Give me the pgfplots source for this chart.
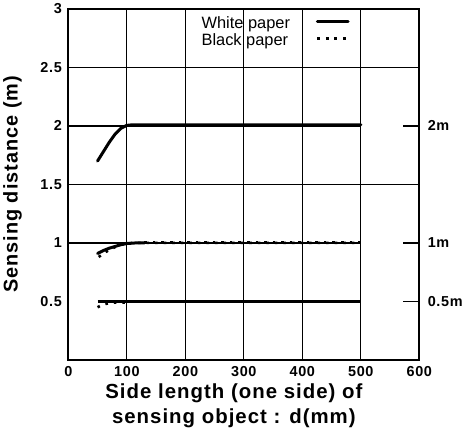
\documentclass[border=0pt]{standalone}
\usepackage{fontspec}
\setmainfont{Liberation Sans}
\newfontfamily\spaced[LetterSpace=5]{Liberation Sans}
\usepackage{pgfplots}
\pgfplotsset{compat=1.18}
\begin{document}
\begin{tikzpicture}
\begin{axis}[
  name=ax,
  at={(0,0)}, anchor=south west,
  scale only axis, width=353pt, height=353pt,
  xmin=0, xmax=600, ymin=0, ymax=3,
  xtick={0,100,...,600},
  ytick={0.5,1,1.5,2,2.5,3},
  yticklabels={0.5,1,1.5,2,2.5,3},
  minor ytick={1.5,2.5},
  major tick length=0pt, minor tick length=0pt,
  /pgf/number format/assume math mode=true,
  tick label style={font=\spaced\fontsize{14.5}{16}\selectfont\bfseries},
  xticklabel style={yshift=-3pt},
  yticklabel style={xshift=-3pt},
  xmajorgrids=true, ymajorgrids=false, yminorgrids=true,
  major grid style={black, line width=1.2pt},
  minor grid style={black, line width=1.2pt},
  axis line style={black, line width=1.7pt},
  extra y ticks={0.5,1,2},
  extra y tick labels={0.5m,1m,2m},
  extra y tick style={
    grid=none,
    ytick pos=right, yticklabel pos=right,
    tick align=inside,
    major tick length=16pt,
    major tick style={black, line width=1.4pt},
    yticklabel style={xshift=8pt},
  },
  xlabel={Side length (one side) of\\sensing object : d(mm)},
  xlabel style={align=center, font=\spaced\fontsize{20.5}{25.5}\selectfont\bfseries, xshift=-10pt},
  ylabel={Sensing distance (m)},
  ylabel style={font=\spaced\fontsize{20}{23}\selectfont\bfseries, yshift=-4pt},
  legend plot pos=right,
  legend style={draw=none, fill=none, at={(rel axis cs:0.365,0.99)}, anchor=north west,
    font=\fontsize{16.5}{17}\selectfont, row sep=0pt, column sep=24pt,
    cells={anchor=west, fill=white, inner sep=1.5pt}},
  legend image code/.code={\draw[#1] (0pt,2pt) -- (31pt,2pt);},
]
% partial grid lines at 1 m and 2 m (end at d = 500)
\addplot[black, line width=1.2pt, forget plot] coordinates {(0,1) (500,1)};
\addplot[black, line width=1.2pt, forget plot] coordinates {(0,2) (500,2)};
% White paper (solid)
\addplot[black, line width=3pt, line cap=round] coordinates {
 (50,1.70) (60,1.78) (70,1.86) (80,1.93) (90,1.98) (100,2.005) (110,2.01) (500,2.01)};
\addlegendentry{White paper}
% Black paper (dotted)
\addplot[black, line width=2.6pt, dash pattern=on 2.6pt off 6pt] coordinates {
 (52,0.88) (60,0.91) (70,0.94) (80,0.965) (90,0.985) (100,0.995) (110,1.0) (500,1.0)};
\addlegendentry{Black paper}
\addplot[black, line width=3pt, line cap=round, forget plot] coordinates {
 (50,0.91) (60,0.935) (70,0.955) (80,0.97) (90,0.985) (100,0.995) (115,1.0) (130,1.0)};
\addplot[black, line width=1.6pt, forget plot] coordinates {(130,1.0) (500,1.0)};
\addplot[black, line width=2.6pt, dash pattern=on 2.6pt off 6pt, forget plot] coordinates {
 (130,1.008) (500,1.008)};
\addplot[black, line width=3pt, forget plot] coordinates {(50,0.5) (500,0.5)};
\addplot[black, line width=2.6pt, dash pattern=on 2.6pt off 6pt, forget plot] coordinates {
 (50,0.45) (60,0.475) (70,0.485) (80,0.49) (100,0.49)};
\end{axis}
\path (ax.south west) ++(-66pt,-77pt) coordinate (bl);
\path (ax.north east) ++(49pt,9pt) coordinate (tr);
\path (bl) rectangle (tr);
\end{tikzpicture}
\end{document}
